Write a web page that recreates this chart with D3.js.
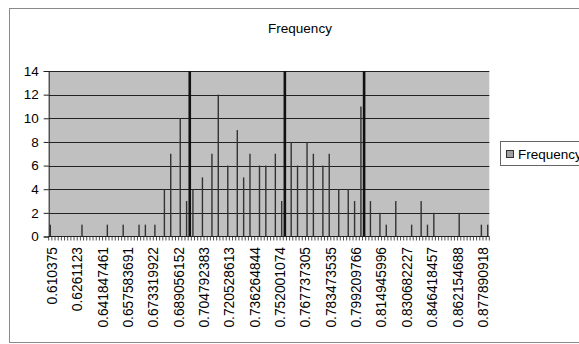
<!DOCTYPE html>
<html>
<head>
<meta charset="utf-8">
<script src="https://cdn.jsdelivr.net/npm/d3@7"></script>
<style>
  body { margin: 0; background: #fff; }
  text { font-family: "Liberation Sans", Arial, sans-serif; }
</style>
</head>
<body>
<svg width="579" height="344"></svg>
<script>
const svg = d3.select("svg");

// bins: 139 categories, every 8th one labelled
const binCount = 139;
const labelStep = 8;
const tickLabels = ["0.610375", "0.6261123", "0.641847461", "0.657583691", "0.673319922",
  "0.689056152", "0.704792383", "0.720528613", "0.736264844", "0.752001074",
  "0.767737305", "0.783473535", "0.799209766", "0.814945996", "0.830682227",
  "0.846418457", "0.862154688", "0.877890918"];

// non-empty bins (index, count)
const barIndex = [0, 10, 18, 23, 28, 30, 33, 36, 38, 41, 43, 44, 45, 48, 51, 53, 56, 59, 61, 63,
  66, 68, 71, 73, 74, 76, 78, 81, 83, 86, 88, 91, 94, 96, 98, 99, 101, 104, 106, 109,
  114, 117, 119, 121, 129, 136, 138];
const barValue = [1, 1, 1, 1, 1, 1, 1, 4, 7, 10, 3, 15, 4, 5, 7, 12, 6, 9, 5, 7,
  6, 6, 7, 3, 15, 8, 6, 8, 7, 6, 7, 4, 4, 3, 11, 15, 3, 2, 1, 3,
  1, 3, 1, 2, 2, 1, 1];
const yTicks = [0, 2, 4, 6, 8, 10, 12, 14];

const plotLeft = 48.7, plotRight = 489.3, plotTop = 71, plotBottom = 236.5;

const x = d3.scaleBand()
  .domain(d3.range(binCount))
  .range([plotLeft, plotRight]);

const y = d3.scaleLinear()
  .domain([0, 14])
  .range([plotBottom, plotTop]);

// outer chart border
svg.append("rect")
  .attr("x", 9.5).attr("y", 8.5)
  .attr("width", 620).attr("height", 334)
  .attr("fill", "none")
  .attr("stroke", "#8a8a8a");

svg.append("text")
  .attr("x", 300).attr("y", 33)
  .attr("text-anchor", "middle")
  .attr("font-size", "13.5px")
  .text("Frequency");

// plot area
svg.append("rect")
  .attr("x", plotLeft).attr("y", plotTop)
  .attr("width", plotRight - plotLeft).attr("height", plotBottom - plotTop)
  .attr("fill", "#c0c0c0");

svg.append("g")
  .selectAll("line")
  .data(yTicks.slice(1))
  .join("line")
  .attr("x1", plotLeft).attr("x2", plotRight)
  .attr("y1", d => Math.round(y(d)) + 0.5)
  .attr("y2", d => Math.round(y(d)) + 0.5)
  .attr("stroke", "#222");

svg.append("clipPath").attr("id", "plot")
  .append("rect")
  .attr("x", plotLeft).attr("y", plotTop)
  .attr("width", plotRight - plotLeft).attr("height", plotBottom - plotTop);

const bars = barIndex.map((d, i) => ({ i: d, v: barValue[i] }));

svg.append("g")
  .attr("clip-path", "url(#plot)")
  .selectAll("rect")
  .data(bars)
  .join("rect")
  .attr("x", d => x(d.i) + x.bandwidth() / 2 - (d.v > 14 ? 1.3 : 0.7))
  .attr("width", d => d.v > 14 ? 2.6 : 1.4)
  .attr("y", d => y(d.v))
  .attr("height", d => y(0) - y(d.v))
  .attr("fill", d => d.v > 14 ? "#111" : "#333");

// y axis
const yAxis = svg.append("g")
  .attr("transform", `translate(${plotLeft},0)`)
  .call(d3.axisLeft(y).tickValues(yTicks).tickSize(5).tickPadding(5));
yAxis.select(".domain").attr("stroke", "#222");
yAxis.selectAll(".tick line").attr("stroke", "#222");
yAxis.selectAll("text").attr("font-size", "13.5px").attr("fill", "#000")
  .attr("font-family", "Liberation Sans, Arial, sans-serif");

// x axis: a tick at every category boundary
const xg = svg.append("g");
xg.append("line")
  .attr("x1", plotLeft).attr("x2", plotRight)
  .attr("y1", plotBottom).attr("y2", plotBottom)
  .attr("stroke", "#222");
xg.selectAll(".cat")
  .data(d3.range(binCount + 1))
  .join("line")
  .attr("class", "cat")
  .attr("x1", d => d < binCount ? x(d) : plotRight)
  .attr("x2", d => d < binCount ? x(d) : plotRight)
  .attr("y1", plotBottom).attr("y2", plotBottom + 4)
  .attr("stroke", "#222")
  .attr("stroke-width", 0.8);

xg.selectAll(".lbl")
  .data(tickLabels)
  .join("text")
  .attr("class", "lbl")
  .attr("font-size", "13.8px")
  .attr("fill", "#000")
  .attr("text-anchor", "end")
  .attr("transform", (d, i) => {
    const cx = x(i * labelStep) + x.bandwidth() / 2 + 6.5;
    return `translate(${cx},247) rotate(-90)`;
  })
  .text(d => d);

// legend
svg.append("rect")
  .attr("x", 500.5).attr("y", 141.5)
  .attr("width", 100).attr("height", 24)
  .attr("fill", "#fff")
  .attr("stroke", "#666");
svg.append("rect")
  .attr("x", 506.5).attr("y", 150.5)
  .attr("width", 7).attr("height", 7)
  .attr("fill", "#a0a0a0")
  .attr("stroke", "#333");
svg.append("text")
  .attr("x", 518).attr("y", 158.5)
  .attr("font-size", "13.5px")
  .text("Frequency");
</script>
</body>
</html>
